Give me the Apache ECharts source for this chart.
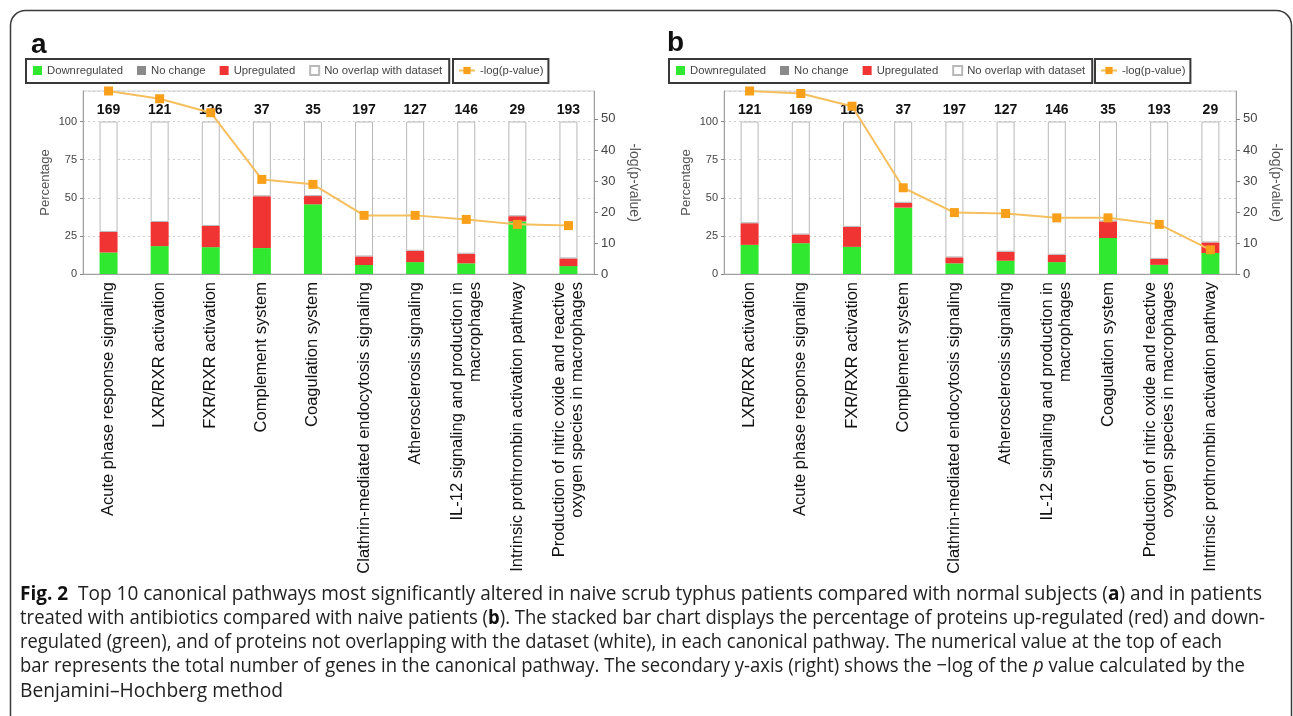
<!DOCTYPE html>
<html>
<head>
<meta charset="utf-8">
<script src="https://cdn.jsdelivr.net/npm/echarts@6/dist/echarts.min.js"></script>
<style>
html,body{margin:0;padding:0;background:#fff;}
#chart{width:1293px;height:716px;}
</style>
</head>
<body>
<div id="chart"></div>
<script>
// ---------- data ----------
const catsA = ['Acute phase response signaling','LXR/RXR activation','FXR/RXR activation','Complement system','Coagulation system','Clathrin-mediated endocytosis signaling','Atherosclerosis signaling','IL-12 signaling and production in\nmacrophages','Intrinsic prothrombin activation pathway','Production of nitric oxide and reactive\noxygen species in macrophages'];
const countsA = [169,121,126,37,35,197,127,146,29,193];
const downA = [14.1,18.3,17.6,17.0,45.7,5.9,7.8,7.0,34.5,5.2];
const noChangeA = [0,0,0,0,0,0,0,0,0,0];
const upA = [13.5,15.8,13.9,34.0,5.4,5.6,7.4,6.3,3.4,5.0];
const noneA = [72.4,65.9,68.5,49.0,48.9,88.5,84.8,86.7,62.1,89.8];
const logpA = [59.0,56.5,52.0,30.5,28.9,18.9,18.9,17.6,16.0,15.6];

const catsB = ['LXR/RXR activation','Acute phase response signaling','FXR/RXR activation','Complement system','Clathrin-mediated endocytosis signaling','Atherosclerosis signaling','IL-12 signaling and production in\nmacrophages','Coagulation system','Production of nitric oxide and reactive\noxygen species in macrophages','Intrinsic prothrombin activation pathway'];
const countsB = [121,169,126,37,197,127,146,35,193,29];
const downB = [19.1,20.2,17.8,43.5,7.0,8.7,7.8,23.6,6.0,13.8];
const noChangeB = [0,0,0,0,0,0,0,0,0,0];
const upB = [14.2,5.7,13.1,3.2,3.9,5.9,4.8,10.9,3.9,6.9];
const noneB = [66.7,74.1,69.1,53.3,89.1,85.4,87.4,65.5,90.1,79.3];
const logpB = [59.0,58.2,54.1,27.8,19.8,19.5,18.1,18.1,16.0,7.8];

const leftTicks = {min:0, max:120, interval:25};
const rightTicks = {min:0, max:59, interval:10};

const legendBarNames = ['Downregulated','No change','Upregulated','No overlap with dataset'];
const lineName = '-log(p-value)';

const captionLines = [
  [{t:'Fig. 2',b:1},{t:'  Top 10 canonical pathways most significantly altered in naive scrub typhus patients compared with normal subjects ('},{t:'a',b:1},{t:') and in patients'}],
  [{t:'treated with antibiotics compared with naive patients ('},{t:'b',b:1},{t:'). The stacked bar chart displays the percentage of proteins up-regulated (red) and down-'}],
  [{t:'regulated (green), and of proteins not overlapping with the dataset (white), in each canonical pathway. The numerical value at the top of each'}],
  [{t:'bar represents the total number of genes in the canonical pathway. The secondary y-axis (right) shows the \u2212log of the '},{t:'p',i:1},{t:' value calculated by the'}],
  [{t:'Benjamini\u2013Hochberg method'}]
];
const captionEnds = [1262,1265,1222,1245,283];

// ---------- styling ----------
const FONT = '"Liberation Sans", Arial, sans-serif';
const CAPFONT = '"Open Sans", "Liberation Sans", sans-serif';
const GREEN = '#2fe82f', RED = '#f03434', GRAY = '#8a8a8a';
const LINEC = '#f6bf5e', MARKC = '#f9a01b';

function panel(idx, cats, counts, down, noch, up, none, logp, grid, legLeft1, legLeft2) {
  const xi = idx, yl = idx*2, yr = idx*2+1, st = 's'+idx;
  const xAxis = {
    type:'category', gridIndex:idx, data:cats,
    axisLine:{lineStyle:{color:'#a0a0a0'}}, axisTick:{show:false},
    axisLabel:{interval:0, rotate:90, fontSize:16.5, lineHeight:18, color:'#111', fontFamily:FONT, margin:8}
  };
  const yLeft = {
    type:'value', gridIndex:idx, position:'left', ...leftTicks,
    name:'Percentage', nameLocation:'middle', nameRotate:90, nameGap:31,
    nameTextStyle:{fontSize:13, color:'#555', fontFamily:FONT},
    axisLine:{show:true, lineStyle:{color:'#a0a0a0'}},
    axisTick:{show:true, length:3, lineStyle:{color:'#888'}},
    axisLabel:{fontSize:11, color:'#444', fontFamily:FONT, margin:6, showMaxLabel:false},
    splitLine:{show:true, lineStyle:{color:'#cfcfcf', type:[2,3], width:1}}
  };
  const yRight = {
    type:'value', gridIndex:idx, position:'right', ...rightTicks,
    name:lineName, nameLocation:'middle', nameRotate:-90, nameGap:33,
    nameTextStyle:{fontSize:14, color:'#555', fontFamily:FONT},
    axisLine:{show:true, lineStyle:{color:'#a0a0a0'}},
    axisTick:{show:true, length:4, lineStyle:{color:'#888'}},
    axisLabel:{fontSize:13, color:'#444', fontFamily:FONT, margin:7, showMaxLabel:false},
    splitLine:{show:false}
  };
  const common = {type:'bar', stack:st, xAxisIndex:xi, yAxisIndex:yl, barWidth:18};
  const series = [
    {...common, name:'Downregulated', data:down, itemStyle:{color:GREEN}},
    {...common, name:'No change', data:noch, itemStyle:{color:GRAY}},
    {...common, name:'Upregulated', data:up, itemStyle:{color:RED}},
    {...common, name:'No overlap with dataset', data:none,
      itemStyle:{color:'#ffffff', borderColor:'#b8b8b8', borderWidth:1},
      label:{show:true, position:'top', distance:4, fontSize:14, fontWeight:'bold', color:'#111', fontFamily:FONT,
        formatter:p => String(counts[p.dataIndex])}},
    {type:'line', name:lineName, xAxisIndex:xi, yAxisIndex:yr, data:logp, z:5,
      symbol:'rect', symbolSize:9, showAllSymbol:true,
      itemStyle:{color:MARKC}, lineStyle:{color:LINEC, width:2}}
  ];
  const legStyle = {itemHeight:9, padding:[6,7,7,7], borderColor:'#383838', borderWidth:2, borderRadius:0,
    textStyle:{fontSize:11.3, color:'#444', fontFamily:FONT}, selectedMode:false};
  const legends = [
    {...legStyle, left:legLeft1, top:59, icon:'rect', itemWidth:9, itemGap:14, data:legendBarNames},
    {...legStyle, left:legLeft2, top:59, itemWidth:16, itemGap:10, padding:[6,5,7,5], data:[lineName]}
  ];
  return {xAxis, yAxes:[yLeft, yRight], series, legends, grid};
}

const pA = panel(0, catsA, countsA, downA, noChangeA, upA, noneA, logpA,
  {left:83, top:91, width:511, height:183}, 26, 453);
const pB = panel(1, catsB, countsB, downB, noChangeB, upB, noneB, logpB,
  {left:724, top:91, width:512, height:183}, 669, 1095);

// caption graphics (condensed by horizontal scaling to match line widths)
const ctx = document.createElement('canvas').getContext('2d');
const CAPSIZE = 20;
function segFont(s){ return (s.i?'italic ':'') + (s.b?'bold ':'') + CAPSIZE + 'px ' + CAPFONT; }
const captionGraphics = captionLines.map((segs, k) => {
  let w = 0;
  segs.forEach(s => { ctx.font = segFont(s); w += ctx.measureText(s.t).width; });
  const txt = segs.map(s => s.b ? '{b|' + s.t + '}' : (s.i ? '{i|' + s.t + '}' : s.t)).join('');
  const sx = (captionEnds[k] - 20) / w;
  return {
    type:'text', x:20, y:594 + k*24.2, scaleX:sx, scaleY:1, z:10,
    style:{text:txt, fontSize:CAPSIZE, fontFamily:CAPFONT, fill:'#222',
      textAlign:'left', align:'left', textVerticalAlign:'middle', verticalAlign:'middle',
      rich:{
        b:{fontSize:CAPSIZE, fontFamily:CAPFONT, fontWeight:'bold', fill:'#111', color:'#111'},
        i:{fontSize:CAPSIZE, fontFamily:CAPFONT, fontStyle:'italic', fill:'#222', color:'#222'}
      }}
  };
});

const option = {
  backgroundColor:'#ffffff',
  animation:false,
  grid:[
    {...pA.grid, show:true, borderColor:'#cfcfcf', borderWidth:1, backgroundColor:'#fff'},
    {...pB.grid, show:true, borderColor:'#cfcfcf', borderWidth:1, backgroundColor:'#fff'}
  ],
  legend:[...pA.legends, ...pB.legends],
  xAxis:[pA.xAxis, pB.xAxis],
  yAxis:[...pA.yAxes, ...pB.yAxes],
  series:[...pA.series, ...pB.series],
  graphic:[
    {type:'rect', z:0, shape:{x:10.5, y:10.5, width:1281, height:740, r:15},
      style:{fill:'none', stroke:'#3a3a3a', lineWidth:1.5}},
    {type:'text', x:31, y:45, style:{text:'a', fontSize:28, fontWeight:'bold', fontFamily:FONT, fill:'#111',
      textAlign:'left', align:'left', textVerticalAlign:'middle', verticalAlign:'middle'}},
    {type:'text', x:667, y:43, style:{text:'b', fontSize:28, fontWeight:'bold', fontFamily:FONT, fill:'#111',
      textAlign:'left', align:'left', textVerticalAlign:'middle', verticalAlign:'middle'}},
    ...captionGraphics
  ]
};

const chart = echarts.init(document.getElementById('chart'), null, {renderer:'canvas'});
chart.setOption(option);
</script>
</body>
</html>
